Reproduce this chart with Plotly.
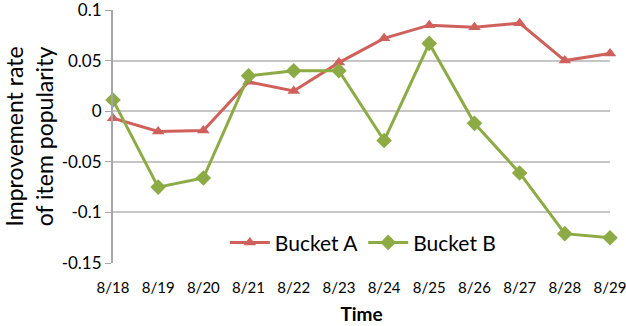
import plotly.graph_objects as go

dates = ["8/18", "8/19", "8/20", "8/21", "8/22", "8/23", "8/24", "8/25", "8/26", "8/27", "8/28", "8/29"]
bucket_a = [-0.007, -0.020, -0.019, 0.029, 0.020, 0.048, 0.072, 0.085, 0.083, 0.087, 0.050, 0.057]
bucket_b = [0.011, -0.075, -0.066, 0.035, 0.040, 0.040, -0.029, 0.067, -0.012, -0.061, -0.121, -0.125]
y_ticks = [0.1, 0.05, 0, -0.05, -0.1, -0.15]
y_tick_text = ["0.1", "0.05", "0", "-0.05", "-0.1", "-0.15"]

FONT = "Lato, Open Sans, sans-serif"
RED = "#D0605B"
GREEN = "#8CAB45"

fig = go.Figure()
fig.add_trace(go.Scatter(
    x=dates, y=bucket_a, name="Bucket A", mode="lines+markers",
    line=dict(color=RED, width=3),
    marker=dict(symbol="triangle-up", size=11, color=RED),
    cliponaxis=False,
))
fig.add_trace(go.Scatter(
    x=dates, y=bucket_b, name="Bucket B", mode="lines+markers",
    line=dict(color=GREEN, width=3),
    marker=dict(symbol="diamond", size=12, color=GREEN),
    cliponaxis=False,
))

fig.update_layout(
    width=626, height=326,
    margin=dict(l=113, r=16, t=10, b=63, autoexpand=False),
    paper_bgcolor="white", plot_bgcolor="white",
    font=dict(family=FONT, size=16, color="#000000"),
    legend=dict(
        orientation="h", x=0.225, y=0.08, xanchor="left", yanchor="middle",
        font=dict(size=21, family=FONT), bgcolor="rgba(0,0,0,0)",
        itemwidth=40, tracegroupgap=0,
    ),
    xaxis=dict(
        type="category", range=[0, 11], showgrid=False, zeroline=False,
        showline=False, ticks="outside", ticklen=11, tickcolor="rgba(0,0,0,0)",
        tickfont=dict(size=15), automargin=False, ticklabeloverflow="allow",
        title=dict(text="<b>Time</b>", font=dict(size=19), standoff=12),
    ),
    yaxis=dict(
        range=[-0.15, 0.1], tickvals=y_ticks, ticktext=y_tick_text,
        showgrid=True, gridcolor="#C6C6C6", gridwidth=1.5, zeroline=False,
        showline=True, linecolor="#A6A6A6", linewidth=2,
        ticks="outside", ticklen=6, tickcolor="#A6A6A6",
        tickfont=dict(size=17), automargin=False, ticklabeloverflow="allow",
        title=dict(text="Improvement rate<br>of item popularity", font=dict(size=23), standoff=8),
    ),
)

fig.write_html("out.html")
